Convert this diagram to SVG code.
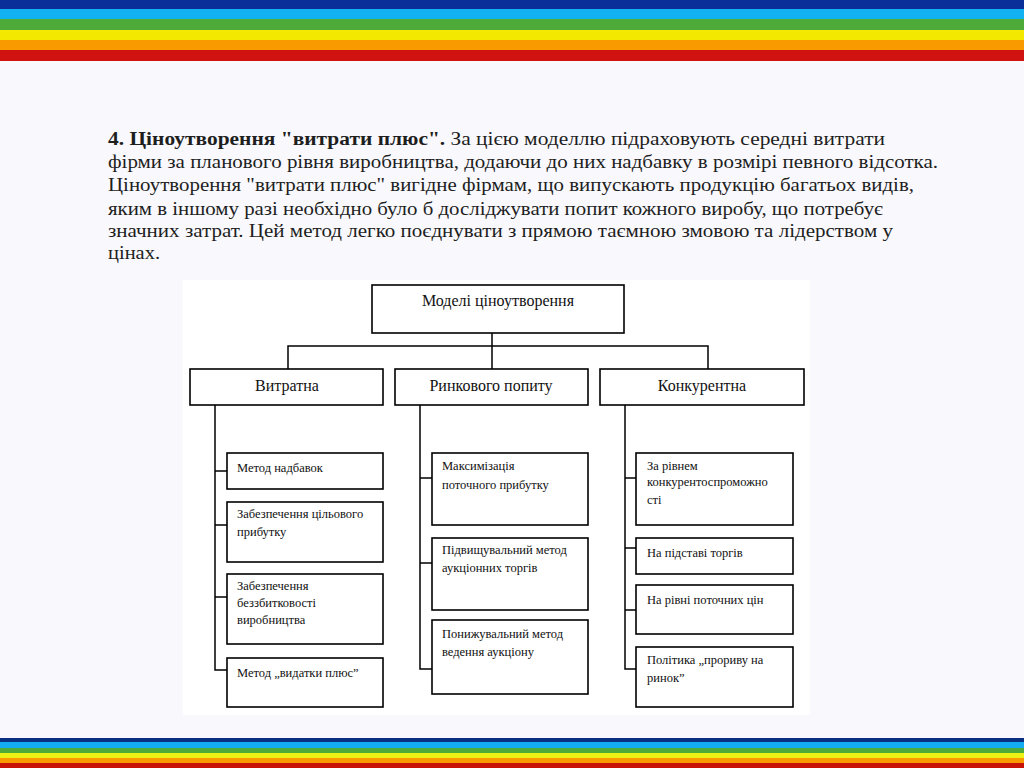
<svg xmlns="http://www.w3.org/2000/svg" width="1024" height="768" viewBox="0 0 1024 768">
<style>
.p{font-family:"Liberation Serif","Times New Roman",serif;font-size:18px;fill:#1e1e1e}
.b{font-weight:bold}
.box{fill:#fff;stroke:#000;stroke-width:1.6}
.l2{font-family:"Liberation Serif","Times New Roman",serif;font-size:16px;fill:#111;text-anchor:middle}
.l3{font-family:"Liberation Serif","Times New Roman",serif;font-size:12.5px;fill:#111}
.c{stroke:#000;stroke-width:1.5;fill:none}
</style>
<rect width="1024" height="768" fill="#f9f9fd"/>
<g id="stripes-top">
<rect x="0" y="0" width="1024" height="9" fill="#0a2f99"/>
<rect x="0" y="9" width="1024" height="10" fill="#12b2f2"/>
<rect x="0" y="19" width="1024" height="11" fill="#4eab3a"/>
<rect x="0" y="30" width="1024" height="10" fill="#f3e800"/>
<rect x="0" y="40" width="1024" height="10" fill="#f99b00"/>
<rect x="0" y="50" width="1024" height="11" fill="#d01210"/>
</g>
<g id="stripes-bottom">
<rect x="0" y="738" width="1024" height="4" fill="#0a2f80"/>
<rect x="0" y="742" width="1024" height="6" fill="#12aaf0"/>
<rect x="0" y="748" width="1024" height="5" fill="#4eab3a"/>
<rect x="0" y="753" width="1024" height="5" fill="#ecf214"/>
<rect x="0" y="758" width="1024" height="5" fill="#f99b00"/>
<rect x="0" y="763" width="1024" height="5" fill="#c81208"/>
</g>
<g id="paragraph">
<text class="p" x="108" y="145" textLength="777" lengthAdjust="spacingAndGlyphs"><tspan class="b">4. Ціноутворення "витрати плюс".</tspan> За цією моделлю підраховують середні витрати</text>
<text class="p" x="108" y="168" textLength="830" lengthAdjust="spacingAndGlyphs">фірми за планового рівня виробництва, додаючи до них надбавку в розмірі певного відсотка.</text>
<text class="p" x="108" y="191" textLength="806" lengthAdjust="spacingAndGlyphs">Ціноутворення "витрати плюс" вигідне фірмам, що випускають продукцію багатьох видів,</text>
<text class="p" x="108" y="215" textLength="775" lengthAdjust="spacingAndGlyphs">яким в іншому разі необхідно було б досліджувати попит кожного виробу, що потребує</text>
<text class="p" x="108" y="237" textLength="785" lengthAdjust="spacingAndGlyphs">значних затрат. Цей метод легко поєднувати з прямою таємною змовою та лідерством у</text>
<text class="p" x="108" y="259" textLength="52" lengthAdjust="spacingAndGlyphs">цінах.</text>
</g>
<rect x="183" y="280" width="627" height="435" fill="#fff"/>
<g id="connectors">
<path class="c" d="M492 333V369M288 369V346H708V369"/>
<path class="c" d="M215 405V670H227M215 471H227M215 525H227M215 597H227"/>
<path class="c" d="M420 405V669H432M420 478H432M420 563H432"/>
<path class="c" d="M625 405V669H636M625 478H636M625 548H636M625 610H636"/>
</g>
<g id="root"><rect class="box" x="372" y="285" width="252" height="48"/><text class="l2" x="498" y="306">Моделі ціноутворення</text></g>
<g id="n-vytratna"><rect class="box" x="190" y="369" width="193" height="36"/><text class="l2" x="287" y="391">Витратна</text></g>
<g id="n-rynkovogo"><rect class="box" x="395" y="369" width="193" height="36"/><text class="l2" x="491" y="391">Ринкового попиту</text></g>
<g id="n-konkurentna"><rect class="box" x="600" y="369" width="204" height="36"/><text class="l2" x="702" y="391">Конкурентна</text></g>
<g id="a1"><rect class="box" x="227" y="453" width="156" height="36"/><text class="l3" x="237" y="472">Метод надбавок</text></g>
<g id="a2"><rect class="box" x="227" y="502" width="156" height="60"/><text class="l3" x="237" y="518">Забезпечення цільового</text><text class="l3" x="237" y="536">прибутку</text></g>
<g id="a3"><rect class="box" x="227" y="574" width="156" height="70"/><text class="l3" x="237" y="590">Забезпечення</text><text class="l3" x="237" y="607">беззбитковості</text><text class="l3" x="237" y="624">виробництва</text></g>
<g id="a4"><rect class="box" x="227" y="658" width="156" height="49"/><text class="l3" x="237" y="677">Метод „видатки плюс”</text></g>
<g id="b1"><rect class="box" x="432" y="453" width="156" height="72"/><text class="l3" x="442" y="470">Максимізація</text><text class="l3" x="442" y="489">поточного прибутку</text></g>
<g id="b2"><rect class="box" x="432" y="538" width="156" height="72"/><text class="l3" x="442" y="554">Підвищувальний метод</text><text class="l3" x="442" y="572">аукціонних торгів</text></g>
<g id="b3"><rect class="box" x="432" y="620" width="156" height="74"/><text class="l3" x="442" y="638">Понижувальний метод</text><text class="l3" x="442" y="656">ведення аукціону</text></g>
<g id="c1"><rect class="box" x="636" y="453" width="157" height="72"/><text class="l3" x="647" y="470">За рівнем</text><text class="l3" x="647" y="486">конкурентоспроможно</text><text class="l3" x="647" y="504">сті</text></g>
<g id="c2"><rect class="box" x="636" y="538" width="157" height="36"/><text class="l3" x="647" y="557">На підставі торгів</text></g>
<g id="c3"><rect class="box" x="636" y="585" width="157" height="49"/><text class="l3" x="647" y="604">На рівні поточних цін</text></g>
<g id="c4"><rect class="box" x="636" y="647" width="157" height="60"/><text class="l3" x="647" y="664">Політика „прориву на</text><text class="l3" x="647" y="682">ринок”</text></g>
</svg>
